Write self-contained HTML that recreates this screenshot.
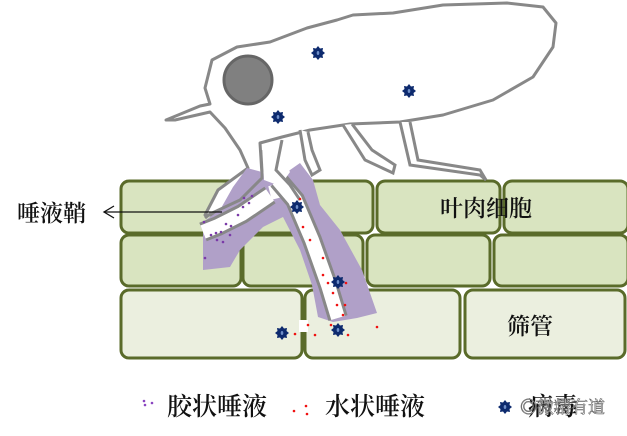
<!DOCTYPE html>
<html><head><meta charset="utf-8"><style>
html,body{margin:0;padding:0;background:#fff;width:627px;height:436px;overflow:hidden}
svg{display:block}
text{font-family:"Liberation Serif","Noto Serif CJK SC","Noto Sans CJK SC",serif;fill:#111;font-weight:600}
</style></head><body>
<svg width="627" height="436" viewBox="0 0 627 436" xmlns="http://www.w3.org/2000/svg">
<defs>
<g id="v">
<polygon points="0,-7 2,-4.5 5,-5 4.5,-2 7,0 4.5,2 5,5 2,4.5 0,7 -2,4.5 -5,5 -4.5,2 -7,0 -4.5,-2 -5,-5 -2,-4.5" fill="#0d2a6e"/>
<ellipse cx="0" cy="0" rx="1.3" ry="2" fill="#6f8fc8"/>
</g>
</defs>
<g stroke="#5a6b2a" stroke-width="3" fill="#d9e4c0">
<rect x="121" y="181" width="252" height="52" rx="8"/>
<rect x="377" y="181" width="123" height="52" rx="8"/>
<rect x="504" y="181" width="124" height="52" rx="8"/>
<rect x="121" y="235" width="120" height="51" rx="8"/>
<rect x="243" y="235" width="120" height="51" rx="8"/>
<rect x="367" y="235" width="123" height="51" rx="8"/>
<rect x="494" y="235" width="134" height="51" rx="8"/>
<rect x="121" y="290" width="181" height="68" rx="8" fill="#ebefdf"/>
<rect x="305" y="290" width="155" height="68" rx="8" fill="#ebefdf"/>
<rect x="465" y="290" width="160" height="68" rx="8" fill="#ebefdf"/>
</g>
<rect x="299" y="320" width="9" height="12" fill="#fff"/>
<path d="M166,120 L200,106 L210,104 L205,88 L212,60 L237,47 L270,42 L307,28 L337,20 L353,15 L393,13 L443,5 L507,3 L543,7 L556,23 L553,47 L533,77 L493,100 L443,115 L400,122 L350,124 L310,130 L282,137 L260,143 L262,175 L268,185 L235,205 L215,215 L205,215 L218,190 L248,168 L240,150 L225,128 L210,112 L175,120 Z" fill="#fff" stroke="#888" stroke-width="3" stroke-linejoin="round"/>
<path d="M343,125 L365,160 L393,173 L395,165 L372,150 L352,124" fill="#fff" stroke="#888" stroke-width="3"/>
<path d="M400,122 L410,165 L480,175 L486,180 L480,170 L418,160 L410,122" fill="#fff" stroke="#888" stroke-width="3"/>
<path d="M300,130 L305,160 L312,175 L320,170 L312,150 L308,132" fill="#fff" stroke="#888" stroke-width="3"/>
<circle cx="248" cy="80" r="24" fill="#808080" stroke="#666" stroke-width="3"/>
<polygon points="247,168 233,187 220,210 203,222 203,270 230,267 240,250 263,227 283,217 300,250 312,285 318,317 333,322 357,318 377,313 362,270 340,230 320,205 313,180 300,163 290,170 275,182 262,172" fill="#b0a0c8"/>
<path d="M262,150 L262,178 L240,200 L210,214 L205,218" fill="none" stroke="#888" stroke-width="3"/>
<path d="M203,232 L218,226 L242,214 L270,195" fill="none" stroke="#888" stroke-width="20"/>
<path d="M270,193 L290,188" fill="none" stroke="#fff" stroke-width="14"/>
<path d="M278,180 L295,200 L312,240 L328,285 L338,318" fill="none" stroke="#888" stroke-width="20"/>
<path d="M278,180 L295,200 L312,240 L328,285 L338,318" fill="none" stroke="#fff" stroke-width="14"/>
<path d="M203,232 L218,226 L242,214 L270,195" fill="none" stroke="#fff" stroke-width="14"/>
<path d="M262,145 L264,180 L280,186 L290,172 L278,150 Z" fill="#fff"/>
<path d="M282,140 L276,170 L290,185 L300,200" fill="none" stroke="#888" stroke-width="3"/>
<g fill="#7a3aa8">
<circle cx="204" cy="222" r="1.3"/><circle cx="211" cy="235" r="1.3"/><circle cx="216" cy="233" r="1.3"/><circle cx="221" cy="232" r="1.3"/><circle cx="217" cy="240" r="1.3"/><circle cx="226" cy="224" r="1.3"/><circle cx="231" cy="226" r="1.3"/><circle cx="238" cy="215" r="1.3"/><circle cx="243" cy="207" r="1.3"/><circle cx="249" cy="203" r="1.3"/><circle cx="252" cy="196" r="1.3"/><circle cx="244" cy="198" r="1.3"/><circle cx="230" cy="235" r="1.3"/><circle cx="205" cy="258" r="1.3"/><circle cx="223" cy="242" r="1.3"/>
</g>
<g fill="#f01010">
<circle cx="300" cy="199" r="1.3"/><circle cx="303" cy="227" r="1.3"/><circle cx="310" cy="240" r="1.3"/><circle cx="323" cy="258" r="1.3"/><circle cx="323" cy="275" r="1.3"/><circle cx="328" cy="283" r="1.3"/><circle cx="333" cy="293" r="1.3"/><circle cx="346" cy="283" r="1.3"/><circle cx="337" cy="305" r="1.3"/><circle cx="345" cy="305" r="1.3"/><circle cx="343" cy="315" r="1.3"/><circle cx="331" cy="325" r="1.3"/><circle cx="308" cy="325" r="1.3"/><circle cx="295" cy="334" r="1.3"/><circle cx="315" cy="335" r="1.3"/><circle cx="348" cy="335" r="1.3"/><circle cx="377" cy="327" r="1.3"/>
</g>
<use href="#v" x="318" y="53"/><use href="#v" x="409" y="91"/><use href="#v" x="278" y="117"/>
<use href="#v" x="297" y="207"/><use href="#v" x="338" y="282"/><use href="#v" x="282" y="333"/><use href="#v" x="338" y="330"/>
<text x="17" y="221" font-size="23">唾液鞘</text>
<line x1="104" y1="212" x2="222" y2="212" stroke="#111" stroke-width="1.3"/>
<polyline points="114,206 104,212 114,218" fill="none" stroke="#111" stroke-width="1.3"/>
<text x="486" y="216" font-size="23" text-anchor="middle">叶肉细胞</text>
<text x="530" y="334" font-size="23" text-anchor="middle">筛管</text>
<g fill="#8a44c0"><circle cx="144" cy="401" r="1.3"/><circle cx="145" cy="405" r="1.3"/><circle cx="152" cy="403" r="1.3"/></g>
<text x="167" y="415" font-size="25">胶状唾液</text>
<g fill="#f01010"><circle cx="294" cy="411" r="1.3"/><circle cx="306" cy="406" r="1.3"/><circle cx="307" cy="414" r="1.3"/></g>
<text x="325" y="415" font-size="25">水状唾液</text>
<use href="#v" x="505" y="407"/>
<text x="528" y="415" font-size="25">病毒</text>
<text x="520" y="413" font-size="17" style="fill:#fff;stroke:#666;stroke-width:0.6;font-weight:400">◎微精有道</text>
</svg>
</body></html>
